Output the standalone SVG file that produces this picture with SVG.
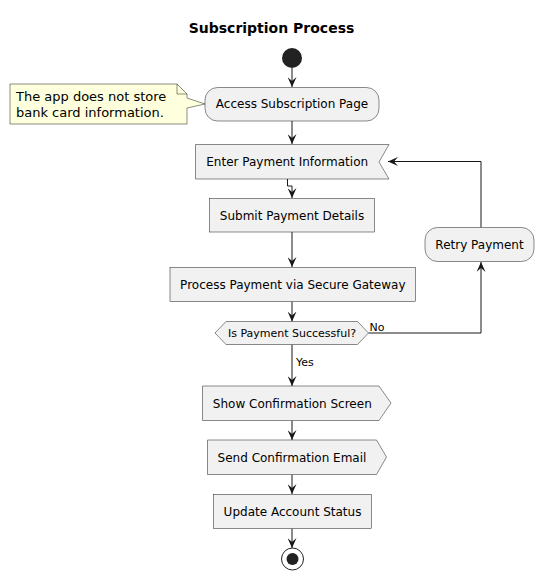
<svg xmlns="http://www.w3.org/2000/svg" width="544" height="580" viewBox="0 0 544 580">
<style>
.box{fill:#F1F1F1;stroke:#181818;stroke-width:0.5}
.t{font-family:"DejaVu Sans",Verdana,sans-serif;font-size:12px;fill:#000;text-anchor:middle}
.s{font-family:"DejaVu Sans",Verdana,sans-serif;font-size:11px;fill:#000}
.n{font-family:"DejaVu Sans",Verdana,sans-serif;font-size:13px;fill:#000}
.ln{fill:none;stroke:#181818;stroke-width:1}
</style>
<defs>
<marker id="ah" markerWidth="10" markerHeight="9" refX="10" refY="4.5" orient="auto" markerUnits="userSpaceOnUse">
<path d="M0,0 L10,4.5 L0,9 L4,4.5 Z" fill="#181818"/>
</marker>
</defs>
<rect width="544" height="580" fill="#FFFFFF"/>
<text x="271.5" y="33" font-family="DejaVu Sans,Verdana,sans-serif" font-size="14" font-weight="bold" text-anchor="middle">Subscription Process</text>

<g id="connectors">
<path class="ln" d="M292,68 L292,87" marker-end="url(#ah)"/>
<path class="ln" d="M292,121 L292,144" marker-end="url(#ah)"/>
<path class="ln" d="M287.5,179 L287.5,186 L292,186 L292,198" marker-end="url(#ah)"/>
<path class="ln" d="M292,232 L292,267" marker-end="url(#ah)"/>
<path class="ln" d="M292,301.5 L292,321.5" marker-end="url(#ah)"/>
<path class="ln" d="M368.5,333 L481,333 L481,262" marker-end="url(#ah)"/>
<path class="ln" d="M481,227.5 L481,161.5 L388,161.5" marker-end="url(#ah)"/>
<path class="ln" d="M292,344.5 L292,386" marker-end="url(#ah)"/>
<path class="ln" d="M292,420.5 L292,440" marker-end="url(#ah)"/>
<path class="ln" d="M292,474.5 L292,494" marker-end="url(#ah)"/>
<path class="ln" d="M292,528.5 L292,548" marker-end="url(#ah)"/>
<text class="s" x="369.5" y="330.5">No</text>
<text class="s" x="296" y="366">Yes</text>
</g>

<g id="start"><circle cx="292" cy="58" r="10" fill="#222222"/></g>

<g id="note">
<path d="M10,84 L177,84 L187,94 L187,98 L205,104 L187,108 L187,124 L10,124 Z" fill="#FEFFDD" stroke="#181818" stroke-width="0.5"/>
<path d="M177,84 L177,94 L187,94" fill="none" stroke="#181818" stroke-width="0.5"/>
<text class="n" x="16" y="101">The app does not store</text>
<text class="n" x="16" y="116.5">bank card information.</text>
</g>

<g id="access">
<rect class="box" x="205" y="87.5" width="174" height="33.5" rx="12.5"/>
<text class="t" x="292" y="108">Access Subscription Page</text>
</g>

<g id="enter">
<path class="box" d="M195.5,144.5 L389,144.5 L379,162 L389,179 L195.5,179 Z"/>
<text class="t" x="287.2" y="166">Enter Payment Information</text>
</g>

<g id="submit">
<rect class="box" x="209.5" y="198.5" width="165" height="33.5"/>
<text class="t" x="292" y="220">Submit Payment Details</text>
</g>

<g id="process">
<rect class="box" x="170" y="267.5" width="245.5" height="34"/>
<text class="t" x="292.8" y="288.5">Process Payment via Secure Gateway</text>
</g>

<g id="decision">
<path class="box" d="M215,333 L226,321.5 L357.5,321.5 L368.5,333 L357.5,344.5 L226,344.5 Z"/>
<text class="s" x="292" y="337" text-anchor="middle">Is Payment Successful?</text>
</g>

<g id="retry">
<rect class="box" x="425" y="227.5" width="109" height="34" rx="12.5"/>
<text class="t" x="479.5" y="248.5">Retry Payment</text>
</g>

<g id="show">
<path class="box" d="M202.5,386 L379,386 L391,403 L379,420.5 L202.5,420.5 Z"/>
<text class="t" x="292.3" y="407.5">Show Confirmation Screen</text>
</g>

<g id="send">
<path class="box" d="M207.5,440 L376.5,440 L386.5,457 L376.5,474.5 L207.5,474.5 Z"/>
<text class="t" x="292" y="462">Send Confirmation Email</text>
</g>

<g id="update">
<rect class="box" x="213.5" y="494.5" width="158" height="34"/>
<text class="t" x="292.5" y="516">Update Account Status</text>
</g>

<g id="end">
<circle cx="292.5" cy="559" r="11" fill="none" stroke="#222222" stroke-width="1"/>
<circle cx="292.5" cy="559" r="6" fill="#222222"/>
</g>
</svg>
